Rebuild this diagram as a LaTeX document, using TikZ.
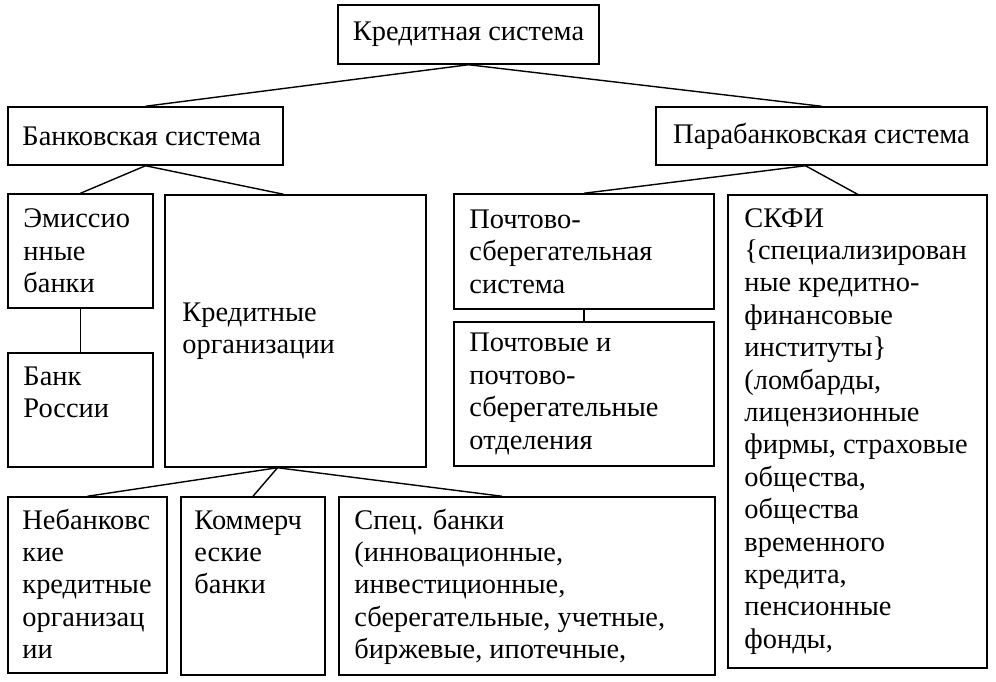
\documentclass[tikz,border=0pt]{standalone}
\usepackage{fontspec}
\setmainfont{Liberation Serif}
\usetikzlibrary{fit}
\newcommand{\diagfont}{\fontsize{28.4}{32.4}\selectfont}

\begin{document}
\begin{tikzpicture}[
    x=1pt, y=-1pt,
    box/.style={draw, line width=1.5pt, inner sep=0pt},
    txt/.style={inner sep=0pt, align=left, font=\diagfont},
    lnk/.style={line width=1.4pt}
  ]
  \useasboundingbox (0,0) rectangle (996,682);

  \node[box, fit={(338,5) (599,64)}]    (kredsys)  {};
  \node[box, fit={(8,107) (283,165)}]   (bank)     {};
  \node[box, fit={(656,107) (987,165)}] (parabank) {};
  \node[box, fit={(8,194) (153,308)}]   (emis)     {};
  \node[box, fit={(8,353) (153,467)}]   (bankrf)   {};
  \node[box, fit={(165,195) (426,467)}] (kredorg)  {};
  \node[box, fit={(454,194) (714,309)}] (pochta)   {};
  \node[box, fit={(454,322) (714,466)}] (otdel)    {};
  \node[box, fit={(728,195) (987,668)}] (skfi)     {};
  \node[box, fit={(8,497) (167,673)}]   (nebank)   {};
  \node[box, fit={(181,497) (325,675)}] (kommerc)  {};
  \node[box, fit={(339,497) (715,675)}] (spec)     {};

  \node[txt] (kredsys-t) at (kredsys) {Кредитная система};
  \node[txt, anchor=west] (bank-t) at ([xshift=15pt]bank.west) {Банковская система};
  \node[txt] (parabank-t) at (parabank) {Парабанковская система};
  \node[txt, anchor=west] (emis-t) at ([xshift=16pt]emis.west) {Эмиссио\\нные\\банки};
  \node[txt, anchor=north west] (bankrf-t) at ([xshift=16pt, yshift=-10pt]bankrf.north west) {\strut Банк\\России};
  \node[txt, anchor=west] (kredorg-t) at ([xshift=18pt]kredorg.west) {Кредитные\\организации};
  \node[txt, anchor=west] (pochta-t) at ([xshift=16pt]pochta.west) {Почтово-\\сберегательная\\система};
  \node[txt, anchor=west] (otdel-t) at ([xshift=16pt]otdel.west) {Почтовые и\\почтово-\\сберегательные\\отделения};
  \node[txt, anchor=north west] (skfi-t) at ([xshift=17pt, yshift=-10pt]skfi.north west)
    {\strut СКФИ\\\{специализирован\\ные кредитно-\\финансовые\\институты\}\\(ломбарды,\\лицензионные\\фирмы, страховые\\общества,\\общества\\временного\\кредита,\\пенсионные\\фонды,};
  \node[txt, anchor=north west] (nebank-t) at ([xshift=15pt, yshift=-10pt]nebank.north west) {\strut Небанковс\\кие\\кредитные\\организац\\ии};
  \node[txt, anchor=north west] (kommerc-t) at ([xshift=14pt, yshift=-10pt]kommerc.north west) {\strut Коммерч\\еские\\банки};
  \node[txt, anchor=north west] (spec-t) at ([xshift=16pt, yshift=-10pt]spec.north west) {\strut Спец. банки\\(инновационные,\\инвестиционные,\\сберегательные, учетные,\\биржевые, ипотечные,};

  \draw[lnk] (kredsys.south) -- (bank.north);
  \draw[lnk] (kredsys.south) -- (parabank.north);
  \draw[lnk] (bank.south) -- (emis.north);
  \draw[lnk] (bank.south) -- ([xshift=-12pt]kredorg.north);
  \draw[lnk] ([xshift=-16pt]parabank.south) -- (pochta.north);
  \draw[lnk] ([xshift=-16pt]parabank.south) -- (skfi.north);
  \draw[lnk] (emis.south) -- (bankrf.north);
  \draw[lnk] (pochta.south) -- (otdel.north);
  \draw[lnk] ([xshift=-18pt]kredorg.south) -- (nebank.north);
  \draw[lnk] ([xshift=-18pt]kredorg.south) -- (kommerc.north);
  \draw[lnk] ([xshift=-18pt]kredorg.south) -- ([xshift=-25pt]spec.north);
\end{tikzpicture}
\end{document}
